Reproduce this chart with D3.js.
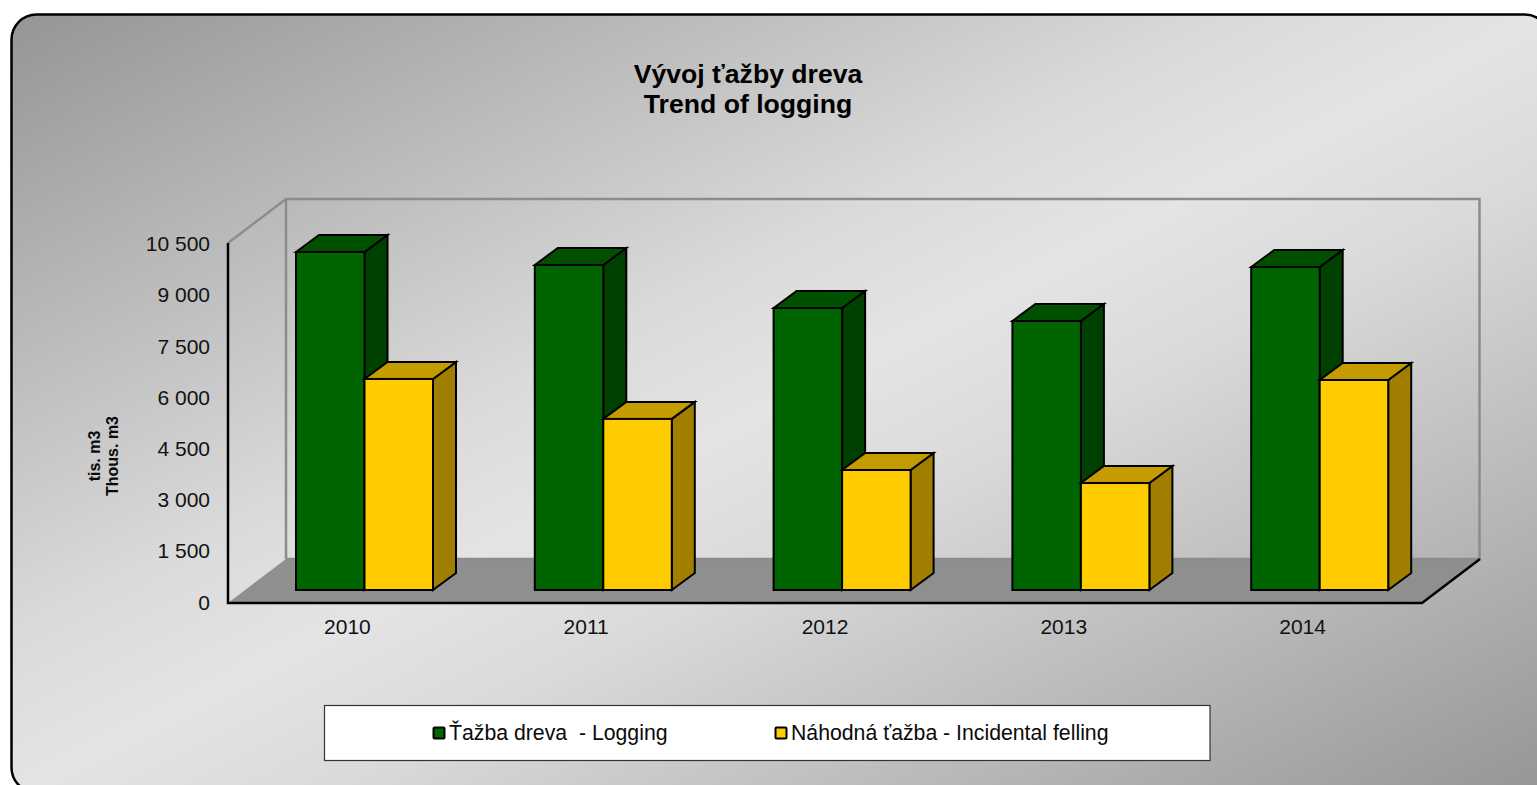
<!DOCTYPE html>
<html><head><meta charset="utf-8">
<script src="https://cdn.jsdelivr.net/npm/d3@7"></script>
<style>html,body{margin:0;padding:0;background:#fff;overflow:hidden}svg{display:block}text{font-family:"Liberation Sans",Arial,sans-serif;fill:#0a0a0a}</style>
</head><body><svg id="c" width="1537" height="785"></svg>
<script>
const years = ["2010","2011","2012","2013","2014"];
const logging = [9860, 9480, 8225, 7845, 9420];
const incidental = [6155, 4990, 3500, 3120, 6125];
const yTicks = [0,1500,3000,4500,6000,7500,9000,10500];
const seriesNames = ["Ťažba dreva  - Logging","Náhodná ťažba - Incidental felling"];
const titleLines = ["Vývoj ťažby dreva","Trend of logging"];
const axisLines = ["tis. m3","Thous. m3"];

const svg = d3.select("#c");
const defs = svg.append("defs");
const g = defs.append("linearGradient").attr("id","bg").attr("x1",0).attr("y1",0).attr("x2",1).attr("y2",1);
[[0,"#959595"],[.4,"#dadada"],[.5,"#e4e4e4"],[.6,"#dadada"],[1,"#959595"]].forEach(s=>g.append("stop").attr("offset",s[0]).attr("stop-color",s[1]));

svg.append("rect").attr("x",11.5).attr("y",14.5).attr("width",1538).attr("height",778).attr("rx",25).attr("ry",25)
  .attr("fill","url(#bg)").attr("stroke","#000").attr("stroke-width",2.5);

const L=228,R=1422,B=603,T=243, DX=58, DY=-44;
const x = d3.scaleBand().domain(years).range([L,R]);
const y = d3.scaleLinear().domain([0,10500]).range([B,T]);
const yLab = d3.scaleLinear().domain([0,10500]).range([B-0.6,T+1]);
const sub = d3.scaleBand().domain([0,1]).range([68, 205]);

// walls and floor
const wall="#8c8c8c";
svg.append("polygon").attr("points",[[L,B],[L+DX,B+DY],[R+DX,B+DY],[R,B]].join(" ")).attr("fill","#8f8f8f");
svg.append("path").attr("d",`M${L},${T}L${L+DX},${T+DY}H${R+DX-.5}V${B+DY}H${L+DX}M${L+DX},${T+DY}V${B+DY}`)
  .attr("fill","none").attr("stroke",wall).attr("stroke-width",2.5);
svg.append("path").attr("d",`M${L},${T}V${B}H${R}L${R+DX},${B+DY}`).attr("fill","none").attr("stroke","#000").attr("stroke-width",2.5);

// bars
const fy=-13, dx=23, dy=-17;
const styles=[{f:"#006400",t:"#005000",s:"#004000"},{f:"#ffcc00",t:"#c49c00",s:"#a07f00"}];
const bars=svg.append("g").attr("stroke","#000").attr("stroke-width",2).attr("stroke-linejoin","miter");
years.forEach((yr,i)=>{
  [logging[i],incidental[i]].forEach((v,si)=>{
    const st=styles[si];
    const x0=x(yr)+sub(si), x1=x0+sub.bandwidth(), yb=y(0)+fy, yt=y(v)+fy;
    const gb=bars.append("g");
    gb.append("polygon").attr("points",[[x1,yb],[x1+dx,yb+dy],[x1+dx,yt+dy],[x1,yt]].join(" ")).attr("fill",st.s);
    gb.append("polygon").attr("points",[[x0,yt],[x0+dx,yt+dy],[x1+dx,yt+dy],[x1,yt]].join(" ")).attr("fill",st.t);
    gb.append("rect").attr("x",x0).attr("y",yt).attr("width",x1-x0).attr("height",yb-yt).attr("fill",st.f);
  });
});

// axes
const fmt=d=>d3.format(",")(d).replace(/,/g," ");
const ya=svg.append("g").attr("transform",`translate(${L},0)`).call(d3.axisLeft(yLab).tickValues(yTicks).tickFormat(fmt).tickSize(0).tickPadding(18));
ya.select(".domain").remove();
ya.selectAll("text").attr("font-size",21).attr("style",'font-family:"Liberation Sans";fill:#111');
const xa=svg.append("g").attr("transform",`translate(0,${B})`).call(d3.axisBottom(x).tickSize(0).tickPadding(16));
xa.select(".domain").remove();
xa.selectAll("text").attr("font-size",21).attr("style",'font-family:"Liberation Sans";fill:#111');

// title
svg.selectAll("text.t").data(titleLines).join("text").attr("class","t").attr("x",748).attr("y",(d,i)=>83+i*30)
  .attr("text-anchor","middle").attr("font-size",26.6).attr("font-weight","bold").style("fill","#000").text(d=>d);
// y title
svg.selectAll("text.a").data(axisLines).join("text").attr("class","a").attr("text-anchor","middle").attr("font-size",16).attr("font-weight","bold")
  .attr("transform",(d,i)=>`translate(${100+i*18},${456}) rotate(-90)`).text(d=>d);

// legend
svg.append("rect").attr("x",324.5).attr("y",705.5).attr("width",885.5).attr("height",55).attr("fill","#fff").attr("stroke","#333").attr("stroke-width",1.2);
const lx=[433,775];
seriesNames.forEach((n,i)=>{
  svg.append("rect").attr("x",lx[i]+.5).attr("y",727.5).attr("width",11).attr("height",11).attr("rx",1).attr("fill",styles[i].f).attr("stroke","#000").attr("stroke-width",2);
  svg.append("text").attr("x",lx[i]+16).attr("y",740).attr("font-size",21.25).attr("xml:space","preserve").style("white-space","pre").text(n);
});
</script></body></html>
